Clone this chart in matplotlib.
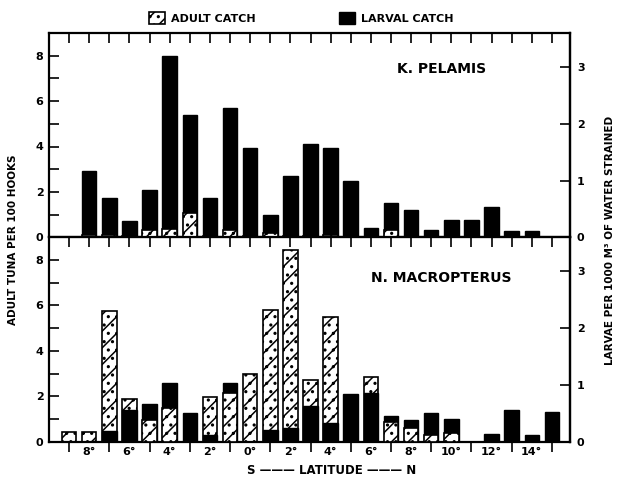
import numpy as np
import matplotlib.pyplot as plt
from matplotlib.patches import Patch

plt.rcParams['font.family'] = 'DejaVu Sans'
plt.rcParams['font.weight'] = 'bold'
plt.rcParams['hatch.linewidth'] = 1.1

# latitude bins, S negative
lat = np.arange(-9, 16)

# K. pelamis
pel_adult = [0, 0.1, 0.1, 0.05, 0.3, 0.37, 1.05, 0.05, 0.3, 0.05, 0.2, 0.05, 0.05,
             0.1, 0, 0, 0.3, 0, 0, 0, 0, 0, 0, 0, 0]          # per 100 hooks
pel_larv = [0, 1.17, 0.70, 0.29, 0.83, 3.19, 2.15, 0.69, 2.27, 1.58, 0.40, 1.08, 1.65,
            1.57, 1.00, 0.17, 0.60, 0.48, 0.13, 0.30, 0.30, 0.53, 0.11, 0.11, 0]  # per 1000 m3

# N. macropterus
mac_adult = [0.44, 0.44, 5.77, 1.9, 0.96, 1.47, 0, 1.98, 2.13, 2.98, 5.8, 8.45, 2.72,
             5.48, 0, 2.86, 0.85, 0.6, 0.3, 0.37, 0, 0, 0, 0, 0]
mac_larv = [0, 0, 0.18, 0.56, 0.67, 1.04, 0.50, 0.12, 1.04, 0, 0.2, 0.25, 0.62,
            0.33, 0.84, 0.86, 0.45, 0.38, 0.51, 0.40, 0, 0.13, 0.55, 0.12, 0.53]

xtick_labels = ['8°', '6°', '4°', '2°', '0°', '2°', '4°', '6°', '8°', '10°', '12°', '14°']
RATIO = 2.5  # left units per right unit
HATCH = '//..'

fig = plt.figure(figsize=(6.18, 4.84), dpi=100)
L, R = 49 / 618, 570 / 618
ax1 = fig.add_axes([L, 1 - 237.3 / 484, R - L, (237.3 - 33) / 484])
ax2 = fig.add_axes([L, 1 - 441.7 / 484, R - L, (441.7 - 237.3) / 484])


def draw(ax, adult, larv, name, ty):
    adult = np.array(adult)
    larv_l = np.array(larv) * RATIO
    for x, a, l in zip(lat, adult, larv_l):
        # shorter bar goes in front
        za, zl = (3, 2) if a < l else (2, 3)
        if a > 0:
            ax.bar(x, a, width=0.72, facecolor='white', edgecolor='black',
                   hatch=HATCH, lw=1.2, zorder=za)
        if l > 0:
            ax.bar(x, l, width=0.72, color='black', edgecolor='black', lw=1.0, zorder=zl)
    ax.set_xlim(-10, 15.9)
    ax.set_ylim(0, 9)
    ax.set_yticks([0, 2, 4, 6, 8])
    ax.set_yticks([1, 3, 5, 7], minor=True)
    ax.tick_params(axis='y', which='both', direction='in', length=7, width=1.2,
                   labelsize=8, pad=4)
    for s in ax.spines.values():
        s.set_linewidth(1.6)
    sec = ax.secondary_yaxis('right', functions=(lambda y: y / RATIO, lambda y: y * RATIO))
    sec.set_yticks([0, 1, 2, 3])
    sec.tick_params(direction='in', length=7, width=1.2, labelsize=8, pad=5)
    sec.spines['right'].set_linewidth(1.6)
    ax.text(0.753, ty, name, transform=ax.transAxes, ha='center', va='center',
            fontsize=10, fontweight='bold')


draw(ax1, pel_adult, pel_larv, 'K. PELAMIS', 0.824)
draw(ax2, mac_adult, mac_larv, 'N. MACROPTERUS', 0.803)

ax1.set_xticks(lat)
ax1.tick_params(axis='x', top=True, bottom=False, direction='in', length=7, width=1.2,
                labelbottom=False)

top2 = ax2.secondary_xaxis('top')
top2.set_xticks(lat)
top2.tick_params(direction='in', length=7, width=1.2, labeltop=False)

ax2.set_xticks(np.arange(-8, 15, 2))
ax2.set_xticklabels(xtick_labels)
ax2.set_xticks(np.arange(-9, 16, 2), minor=True)
ax2.tick_params(axis='x', which='major', length=0, labelsize=8, pad=4)
ax2.tick_params(axis='x', which='minor', direction='out', length=7, width=1.2)

fig.text(13.5 / 618, 1 - 240 / 484, 'ADULT TUNA PER 100 HOOKS', rotation=90,
         ha='center', va='center', fontsize=7.5, fontweight='bold')
fig.text(610 / 618, 1 - 240 / 484, 'LARVAE PER 1000 M³ OF WATER STRAINED', rotation=90,
         ha='center', va='center', fontsize=7.5, fontweight='bold')
fig.text(332 / 618, 1 - 470 / 484, 'S ——— LATITUDE ——— N', ha='center', va='center',
         fontsize=8.5, fontweight='bold')

handles = [Patch(facecolor='white', edgecolor='black', hatch=HATCH, lw=1.2, label='ADULT CATCH'),
           Patch(facecolor='black', edgecolor='black', label='LARVAL CATCH')]
fig.legend(handles=handles, loc='center', bbox_to_anchor=(301 / 618, 1 - 18 / 484), ncol=2,
           frameon=False, fontsize=8, handlelength=1.5, handleheight=1.3,
           handletextpad=0.5, columnspacing=7.5)

fig.savefig('out.png', dpi=100)
